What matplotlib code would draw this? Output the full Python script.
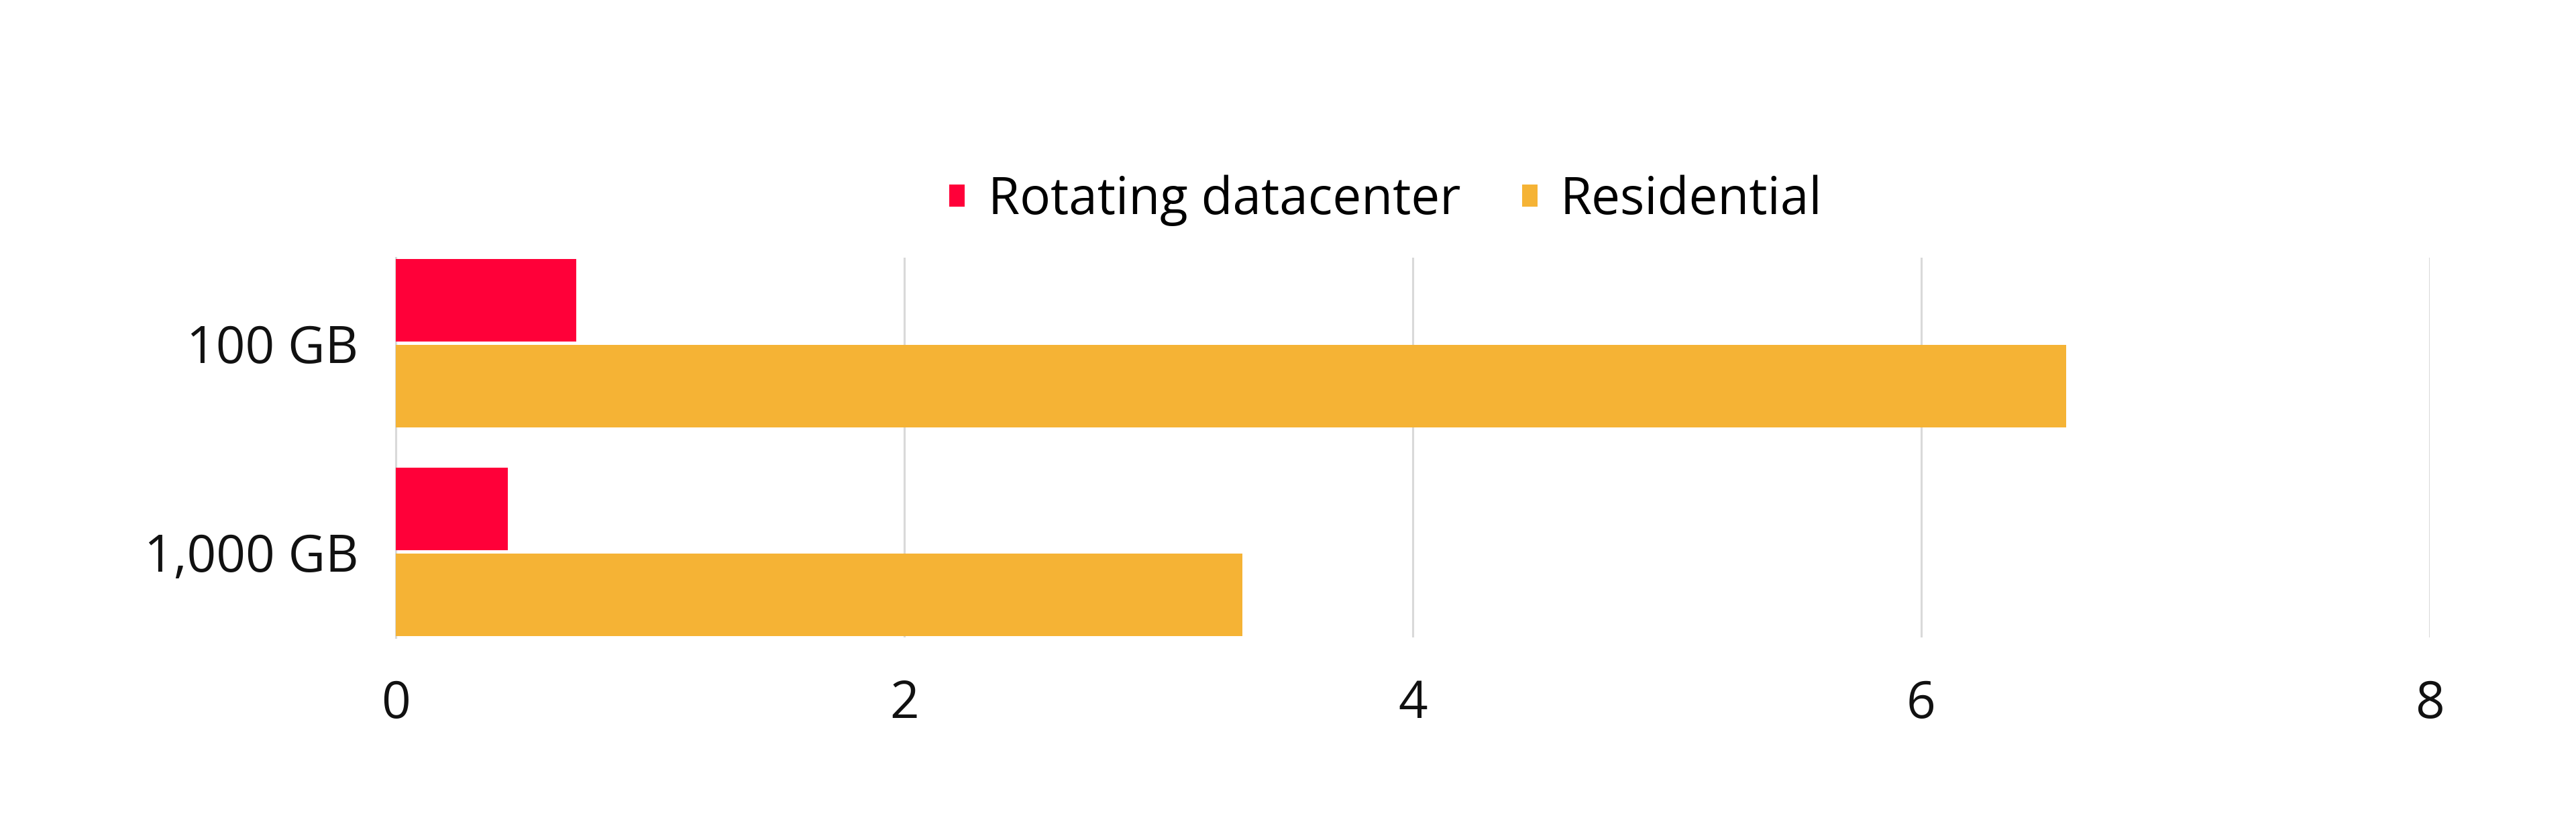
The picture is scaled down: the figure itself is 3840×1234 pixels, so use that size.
import matplotlib.pyplot as plt
import numpy as np

categories = ['100 GB', '1,000 GB']
rotating = [0.71, 0.44]
residential = [6.57, 3.33]
series_names = ['Rotating datacenter', 'Residential']
xticks = [0, 2, 4, 6, 8]

red = '#FF0039'
orange = '#F5B335'

plt.rcParams['font.family'] = ['Open Sans', 'DejaVu Sans']

fig = plt.figure(figsize=(38.4, 12.34), dpi=100)
ax = fig.add_axes([0.1536, 0.2301, 0.7896, 0.4587])

y = np.arange(len(categories))
h = 0.395
ax.barh(y - 0.205, rotating, height=h, color=red, label=series_names[0], zorder=3)
ax.barh(y + 0.205, residential, height=h, color=orange, label=series_names[1], zorder=3)

ax.set_xlim(0, 8)
ax.set_ylim(1.41, -0.41)
ax.set_xticks(xticks)
ax.set_xticklabels([str(t) for t in xticks])
ax.set_yticks(y)
ax.set_yticklabels(categories)
ax.tick_params(axis='both', length=0, labelsize=55, colors='#111111')
ax.tick_params(axis='x', pad=44)
ax.tick_params(axis='y', pad=40)

ax.grid(axis='x', color='#D9D9D9', linewidth=2.2, zorder=0)
for s in ['top', 'right', 'bottom']:
    ax.spines[s].set_visible(False)
ax.spines['left'].set_color('#D9D9D9')
ax.spines['left'].set_linewidth(2.2)

leg = fig.legend(loc='center', bbox_to_anchor=(0.538, 0.758), ncol=2, frameon=False,
                 fontsize=55, handlelength=0.3, handleheight=0.3, handletextpad=0.45,
                 columnspacing=1.2)

fig.savefig('out.png', dpi=100)
